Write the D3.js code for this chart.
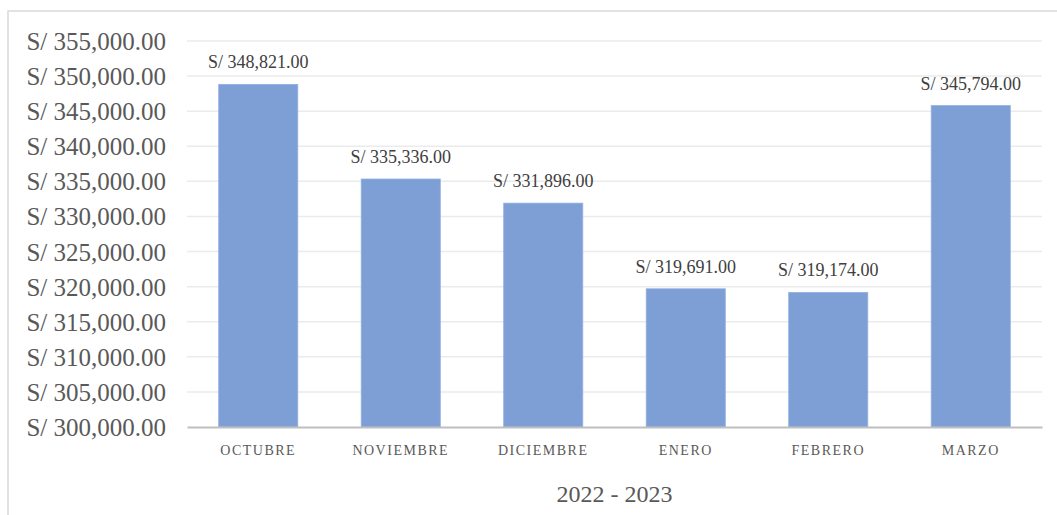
<!DOCTYPE html>
<html>
<head>
<meta charset="utf-8">
<script src="https://cdn.jsdelivr.net/npm/d3@7"></script>
<style>
  html, body { margin: 0; padding: 0; background: #fff; }
  svg { display: block; font-family: "Liberation Serif", "Times New Roman", serif; }
</style>
</head>
<body>
<svg id="chart" width="1057" height="515"></svg>
<script>
// Monthly amounts, October 2022 – March 2023
const months = ["OCTUBRE", "NOVIEMBRE", "DICIEMBRE", "ENERO", "FEBRERO", "MARZO"];
const amounts = [348821, 335336, 331896, 319691, 319174, 345794];
const yTicks = [300000, 305000, 310000, 315000, 320000, 325000, 330000, 335000, 340000, 345000, 350000, 355000];
const axisTitle = "2022 - 2023";

const svg = d3.select("#chart");
const W = 1057, H = 515;
const plot = { left: 187, right: 1042, top: 41, bottom: 427 };
const serif = "'Liberation Serif', 'Times New Roman', serif";

// outer chart frame
svg.append("rect")
  .attr("x", 8).attr("y", 11)
  .attr("width", W + 20).attr("height", H + 20)
  .attr("fill", "#fff").attr("stroke", "#d9d9d9").attr("stroke-width", 1.5);

const x = d3.scaleBand().domain(months).range([plot.left, plot.right]).paddingInner(0.445).paddingOuter(0.2225);
const y = d3.scaleLinear().domain([300000, 355000]).range([plot.bottom, plot.top]);

const fmt = d3.format(",.2f");
const money = v => "S/ " + fmt(v);

// horizontal gridlines
svg.append("g").selectAll("line").data(yTicks.slice(1)).join("line")
  .attr("x1", plot.left).attr("x2", plot.right)
  .attr("y1", d => y(d)).attr("y2", d => y(d))
  .attr("stroke", "#ebebeb").attr("stroke-width", 1.5);

// y axis labels
const yAxis = d3.axisLeft(y).tickValues(yTicks).tickFormat(money).tickSize(0).tickPadding(21);
svg.append("g")
  .attr("transform", `translate(${plot.left},0)`)
  .call(yAxis)
  .attr("font-family", serif)
  .attr("font-size", 25)
  .call(g => g.select(".domain").remove())
  .call(g => g.selectAll("text")
    .attr("fill", "#595959")
    .attr("dy", "0.34em"));

// bars
svg.append("g").selectAll("rect").data(amounts).join("rect")
  .attr("x", (d, i) => x(months[i]))
  .attr("y", d => y(d))
  .attr("width", x.bandwidth())
  .attr("height", d => y(300000) - y(d))
  .attr("fill", "#7a9cd5")
  .attr("fill-opacity", 0.97)
  .attr("stroke", "#8fb0e2")
  .attr("stroke-width", 0.8);

// value labels
svg.append("g")
  .attr("font-family", serif)
  .attr("font-size", 18)
  .selectAll("text").data(amounts).join("text")
  .attr("x", (d, i) => x(months[i]) + x.bandwidth() / 2)
  .attr("y", d => y(d) - 16)
  .attr("text-anchor", "middle")
  .attr("fill", "#404040")
  .text(d => money(d));

// x axis
const xAxis = d3.axisBottom(x).tickSize(0).tickPadding(18);
svg.append("g")
  .attr("transform", `translate(0,${plot.bottom})`)
  .call(xAxis)
  .attr("font-family", serif)
  .attr("font-size", 14)
  .call(g => g.select(".domain").attr("stroke", "#bfbfbf").attr("stroke-width", 2.2))
  .call(g => g.selectAll("text")
    .attr("letter-spacing", "1.5px")
    .attr("fill", "#595959"));

// axis title
svg.append("text")
  .attr("x", (plot.left + plot.right) / 2)
  .attr("y", 502)
  .attr("text-anchor", "middle")
  .attr("font-family", serif)
  .attr("font-size", 24)
  .attr("fill", "#595959")
  .text(axisTitle);
</script>
</body>
</html>
